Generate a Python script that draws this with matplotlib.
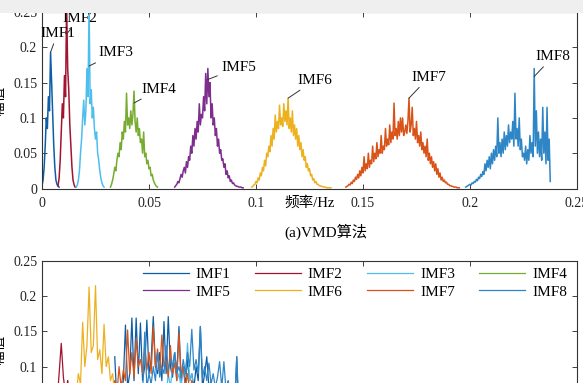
import matplotlib.pyplot as plt
import numpy as np
from matplotlib.patches import Rectangle

plt.rcParams['font.family'] = ['Liberation Serif', 'Noto Sans CJK SC']
plt.rcParams['font.size'] = 10

# ---------------- 数据 ----------------
imf_names = ['IMF1', 'IMF2', 'IMF3', 'IMF4', 'IMF5', 'IMF6', 'IMF7', 'IMF8']
imf_colors = ['#0d5ea6', '#a2142f', '#4dbeee', '#77ac30',
              '#7e2f8e', '#edb120', '#d95319', '#2f86c6']

xticks = [0, 0.05, 0.1, 0.15, 0.2, 0.25]
xtick_labels = ['0', '0.05', '0.1', '0.15', '0.2', '0.25']
yticks = [0, 0.05, 0.1, 0.15, 0.2, 0.25]
ytick_labels = ['0', '0.05', '0.1', '0.15', '0.2', '0.25']

# (a) VMD 频谱, 频率分辨率 0.0005 Hz, 每个分量给起始频率
vmd_df = 0.0005
vmd_f0 = [0.0, 0.0075, 0.016, 0.032, 0.062, 0.098, 0.142, 0.198]

vmd_imf1 = [0.004, 0.012, 0.03, 0.06, 0.1, 0.085, 0.13, 0.11, 0.193, 0.15,
            0.105, 0.06, 0.03, 0.012, 0.006, 0.003, 0.002]
vmd_imf2 = [0.004, 0.015, 0.04, 0.08, 0.12, 0.1, 0.16, 0.13, 0.26, 0.17,
            0.14, 0.09, 0.06, 0.03, 0.012, 0.005, 0.002]
vmd_imf3 = [0.002, 0.005, 0.012, 0.025, 0.05, 0.07, 0.1, 0.125, 0.09, 0.11,
            0.17, 0.13, 0.26, 0.12, 0.14, 0.1, 0.115, 0.085, 0.07, 0.08,
            0.05, 0.04, 0.025, 0.015, 0.008, 0.004, 0.002]
vmd_imf4 = [0.002, 0.006, 0.012, 0.02, 0.03, 0.025, 0.04, 0.05, 0.045, 0.065,
            0.055, 0.08, 0.07, 0.095, 0.08, 0.135, 0.09, 0.1, 0.085, 0.11,
            0.09, 0.105, 0.138, 0.095, 0.08, 0.1, 0.075, 0.085, 0.065, 0.07,
            0.05, 0.08, 0.045, 0.05, 0.035, 0.04, 0.028, 0.03, 0.018, 0.02,
            0.012, 0.008, 0.005, 0.003, 0.002]
vmd_imf5 = [0.002, 0.004, 0.006, 0.01, 0.008, 0.014, 0.02, 0.016, 0.025, 0.03,
            0.022, 0.038, 0.03, 0.045, 0.04, 0.06, 0.05, 0.075, 0.06, 0.085,
            0.07, 0.095, 0.08, 0.12, 0.09, 0.105, 0.1, 0.13, 0.11, 0.163,
            0.12, 0.17, 0.13, 0.15, 0.1, 0.12, 0.09, 0.1, 0.075, 0.085,
            0.06, 0.07, 0.05, 0.055, 0.04, 0.042, 0.03, 0.035, 0.02, 0.025,
            0.015, 0.018, 0.01, 0.012, 0.007, 0.008, 0.005, 0.004, 0.003, 0.003,
            0.002, 0.002, 0.002, 0.001, 0.001]
vmd_imf6 = [0.002, 0.003, 0.005, 0.006, 0.01, 0.008, 0.015, 0.012, 0.022, 0.018,
            0.03, 0.025, 0.04, 0.032, 0.05, 0.045, 0.06, 0.052, 0.075, 0.06,
            0.085, 0.07, 0.104, 0.08, 0.095, 0.085, 0.118, 0.09, 0.1, 0.088,
            0.12, 0.095, 0.11, 0.09, 0.128, 0.085, 0.1, 0.08, 0.11, 0.075,
            0.09, 0.07, 0.085, 0.06, 0.075, 0.055, 0.065, 0.045, 0.055, 0.04,
            0.045, 0.03, 0.035, 0.025, 0.028, 0.018, 0.02, 0.012, 0.014, 0.008,
            0.01, 0.006, 0.006, 0.004, 0.004, 0.003, 0.003, 0.002, 0.002, 0.002,
            0.001, 0.001, 0.001, 0.001, 0.001]
vmd_imf7 = [0.002, 0.003, 0.004, 0.006, 0.005, 0.009, 0.007, 0.012, 0.01, 0.016,
            0.013, 0.02, 0.015, 0.025, 0.018, 0.03, 0.022, 0.045, 0.025, 0.035,
            0.028, 0.05, 0.03, 0.04, 0.035, 0.06, 0.038, 0.05, 0.042, 0.065,
            0.045, 0.055, 0.05, 0.075, 0.05, 0.06, 0.055, 0.085, 0.06, 0.07,
            0.062, 0.09, 0.065, 0.08, 0.07, 0.121, 0.075, 0.085, 0.07, 0.095,
            0.075, 0.1, 0.08, 0.1, 0.075, 0.08, 0.09, 0.078, 0.095, 0.128,
            0.08, 0.09, 0.115, 0.075, 0.085, 0.07, 0.095, 0.065, 0.075, 0.06,
            0.08, 0.055, 0.065, 0.05, 0.06, 0.045, 0.07, 0.04, 0.05, 0.035,
            0.045, 0.03, 0.038, 0.025, 0.035, 0.02, 0.028, 0.016, 0.022, 0.012,
            0.016, 0.01, 0.012, 0.008, 0.009, 0.006, 0.006, 0.004, 0.004, 0.003,
            0.003, 0.002, 0.002, 0.002, 0.001, 0.001, 0.001]
vmd_imf8 = [0.002, 0.003, 0.004, 0.005, 0.006, 0.005, 0.008, 0.007, 0.01, 0.009,
            0.013, 0.011, 0.016, 0.014, 0.02, 0.017, 0.024, 0.02, 0.035, 0.025,
            0.04, 0.03, 0.045, 0.028, 0.05, 0.035, 0.055, 0.04, 0.06, 0.045,
            0.1, 0.05, 0.065, 0.045, 0.07, 0.05, 0.08, 0.055, 0.075, 0.06,
            0.09, 0.065, 0.08, 0.07, 0.095, 0.06, 0.135, 0.07, 0.085, 0.06,
            0.1, 0.055, 0.07, 0.045, 0.05, 0.04, 0.06, 0.035, 0.055, 0.04,
            0.075, 0.05, 0.065, 0.045, 0.17, 0.06, 0.11, 0.05, 0.08, 0.045,
            0.07, 0.04, 0.115, 0.05, 0.08, 0.035, 0.115, 0.04, 0.07, 0.01]
vmd_amp = [vmd_imf1, vmd_imf2, vmd_imf3, vmd_imf4,
           vmd_imf5, vmd_imf6, vmd_imf7, vmd_imf8]

# 下图 (另一种分解) 频谱, 频率分辨率 0.001 Hz
emd_df = 0.001
emd_f0 = [0.034, 0.006, 0.055, 0.020, 0.040, 0.012, 0.030, 0.045]

emd_imf1 = [0.114, 0.05, 0.07, 0.06, 0.08, 0.159, 0.07, 0.09, 0.169, 0.08,
            0.169, 0.09, 0.162, 0.08, 0.1, 0.166, 0.09, 0.11, 0.171, 0.1,
            0.09, 0.12, 0.08, 0.164, 0.09, 0.171, 0.1, 0.085, 0.12, 0.09,
            0.157, 0.08, 0.1, 0.075, 0.11, 0.08, 0.09, 0.07, 0.1, 0.08,
            0.157, 0.07, 0.09, 0.114, 0.07, 0.08, 0.06, 0.07, 0.05, 0.06,
            0.045, 0.055, 0.04, 0.05, 0.035, 0.04, 0.03, 0.114, 0.02]
emd_imf2 = [0.02, 0.05, 0.09, 0.133, 0.085, 0.06, 0.08, 0.05, 0.07, 0.04,
            0.05, 0.03, 0.02]
emd_imf3 = [0.03, 0.05, 0.07, 0.06, 0.09, 0.07, 0.1, 0.12, 0.08, 0.09,
            0.07, 0.1, 0.085, 0.133, 0.08, 0.09, 0.06, 0.07, 0.04, 0.03, 0.02]
emd_imf4 = [0.01, 0.02, 0.03, 0.04, 0.05, 0.045, 0.06, 0.05, 0.055, 0.04,
            0.05, 0.035, 0.04, 0.03, 0.025, 0.02, 0.015, 0.01]
emd_imf5 = [0.01, 0.02, 0.035, 0.05, 0.04, 0.06, 0.05, 0.07, 0.055, 0.065,
            0.05, 0.06, 0.045, 0.05, 0.035, 0.04, 0.03, 0.02, 0.01]
emd_imf6 = [0.02, 0.035, 0.05, 0.07, 0.06, 0.09, 0.075, 0.163, 0.1, 0.13,
            0.213, 0.12, 0.13, 0.215, 0.11, 0.124, 0.09, 0.16, 0.1, 0.114,
            0.08, 0.09, 0.06, 0.05, 0.03]
emd_imf7 = [0.03, 0.045, 0.06, 0.05, 0.08, 0.06, 0.1, 0.07, 0.095, 0.08,
            0.152, 0.09, 0.12, 0.085, 0.14, 0.1, 0.11, 0.09, 0.13, 0.095,
            0.12, 0.09, 0.157, 0.1, 0.125, 0.09, 0.145, 0.1, 0.11, 0.085,
            0.13, 0.09, 0.105, 0.08, 0.148, 0.085, 0.1, 0.07, 0.09, 0.065,
            0.08, 0.06, 0.07, 0.05, 0.06, 0.04, 0.03]
emd_imf8 = [0.02, 0.04, 0.06, 0.149, 0.07, 0.09, 0.075, 0.1, 0.08, 0.12,
            0.085, 0.1, 0.09, 0.13, 0.095, 0.11, 0.1, 0.12, 0.09, 0.1,
            0.085, 0.11, 0.09, 0.12, 0.1, 0.153, 0.095, 0.11, 0.09, 0.157,
            0.085, 0.1, 0.08, 0.105, 0.075, 0.09, 0.07, 0.085, 0.107, 0.07,
            0.107, 0.065, 0.08, 0.06, 0.075, 0.05, 0.114, 0.04, 0.02]
emd_amp = [emd_imf1, emd_imf2, emd_imf3, emd_imf4,
           emd_imf5, emd_imf6, emd_imf7, emd_imf8]

# 标注: 文字相对引线端点的偏移(像素), 引线端点相对峰值下移(像素)
label_dx = [7, 13, 27, 25, 31, 27, 20, 19]
label_dy = [19, 16, 13, 14, 12, 18, 21, 20]
label_drop = [0, 28, 60, 12, 11, 0, 0, 8]

# ---------------- 绘图 ----------------
W, H = 583, 383
fig = plt.figure(figsize=(W / 100, H / 100), dpi=100)
fig.patch.set_facecolor('white')

ax1 = fig.add_axes([42 / W, 1 - 188.5 / H, 535 / W, 176.5 / H])
ax2 = fig.add_axes([42 / W, 1 - 437 / H, 535 / W, 176 / H])


def style_axes(ax):
    ax.set_xlim(0, 0.25)
    ax.set_ylim(0, 0.25)
    ax.set_xticks(xticks)
    ax.set_yticks(yticks)
    ax.set_yticklabels(ytick_labels)
    ax.tick_params(direction='in', top=True, right=True, length=3.5,
                   width=0.6, colors='#222222', labelsize=10)
    ax.tick_params(axis='x', pad=6)
    for s in ax.spines.values():
        s.set_color('#333333')
        s.set_linewidth(0.8)
    ax.set_ylabel('幅值', fontsize=10.5)
    ax.yaxis.set_label_coords(-0.067, 0.5)


style_axes(ax1)
style_axes(ax2)
ax1.set_xticklabels(xtick_labels)
ax2.set_xticklabels(xtick_labels)

for i in range(8):
    amp = np.array(vmd_amp[i])
    f = vmd_f0[i] + vmd_df * np.arange(len(amp))
    ax1.plot(f, amp, color=imf_colors[i], lw=1.1, clip_on=True)

    k = int(np.argmax(amp))
    px = ax1.transData.transform((f[k], amp[k]))
    px[1] = min(px[1], ax1.transData.transform((0, 0.25))[1]) - label_drop[i]
    if label_drop[i] > 0 and amp[k] > 0.25:
        px[1] = ax1.transData.transform((0, 0.25))[1] + 6 - label_drop[i]
    xy = ax1.transData.inverted().transform(px)
    ax1.annotate(imf_names[i], xy=xy, xytext=(label_dx[i], label_dy[i]),
                 textcoords='offset pixels', ha='center', va='center',
                 fontsize=11, annotation_clip=False,
                 arrowprops=dict(arrowstyle='-', lw=0.7, color='#333333',
                                 shrinkA=1, shrinkB=0))

ax1.set_xlabel('频率/Hz', fontsize=10.5)
ax1.xaxis.set_label_coords(0.5, -0.045)

fig.text(326 / W, 1 - 232 / H, '(a)VMD算法', ha='center', va='center',
         fontsize=11)

lines = []
for i in range(8):
    amp = np.array(emd_amp[i])
    f = emd_f0[i] + emd_df * np.arange(len(amp))
    ln, = ax2.plot(f, amp, color=imf_colors[i], lw=0.9, label=imf_names[i])
    lines.append(ln)

order = [0, 4, 1, 5, 2, 6, 3, 7]
ax2.legend([lines[j] for j in order], [imf_names[j] for j in order],
           ncol=4, frameon=False, loc='upper right',
           bbox_to_anchor=(0.981, 0.963), borderaxespad=0, borderpad=0,
           fontsize=11, handlelength=3.0, handletextpad=0.45,
           columnspacing=1.6, labelspacing=0.25)

# 截图顶部的灰色条
fig.add_artist(Rectangle((0, 1 - 13 / H), 1, 13 / H, transform=fig.transFigure,
                         facecolor='#efefef', edgecolor='none', zorder=10))

fig.savefig('out.png', dpi=100)
